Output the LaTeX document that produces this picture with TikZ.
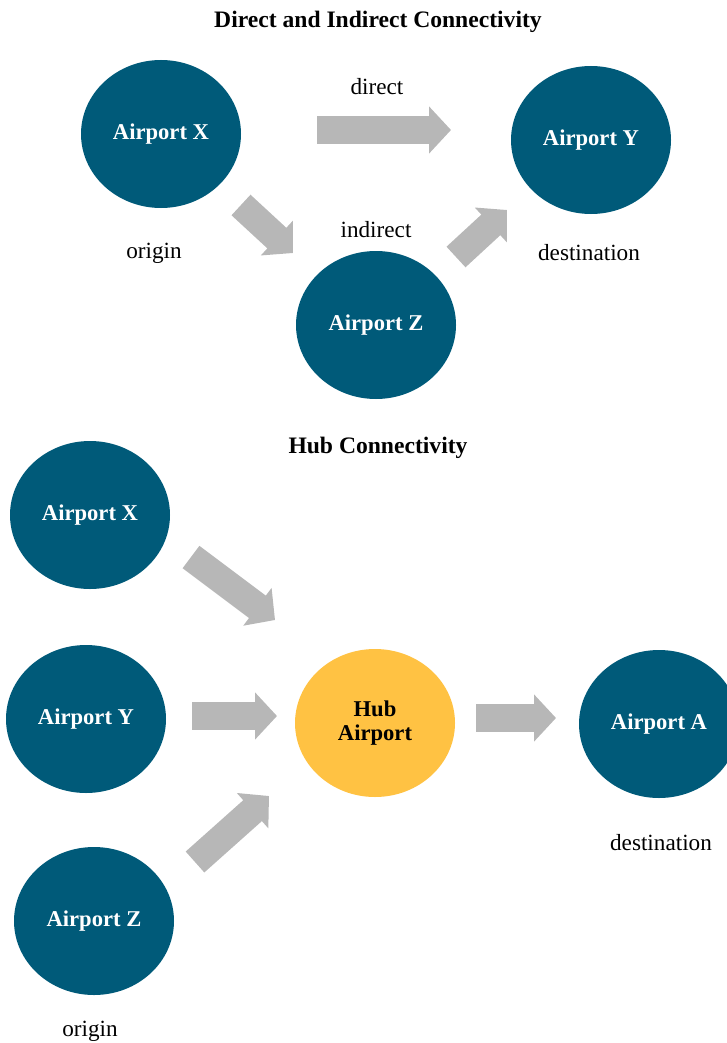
\documentclass[tikz,border=0pt]{standalone}
\usepackage{fontspec}
\setmainfont{Liberation Serif}
\usepackage{tikz}
\usetikzlibrary{shapes.geometric, arrows.meta}
\definecolor{airblue}{RGB}{0, 90, 121}
\definecolor{hubgold}{RGB}{255, 194, 67}
\definecolor{flowgray}{RGB}{183, 183, 183}

\begin{document}
\begin{tikzpicture}[
    x=1pt, y=-1pt,
    apt/.style={ellipse, fill=airblue, minimum width=160pt, minimum height=148pt, inner sep=0pt, text=white, font=\fontsize{22.6}{24}\selectfont\bfseries, align=center},
    hub/.style={apt, fill=hubgold, text=black},
    lbl/.style={font=\fontsize{23.2}{26}\selectfont},
    ttl/.style={font=\fontsize{23.6}{26}\selectfont\bfseries},
    flow/.style={flowgray, line width=28pt, -{Triangle[length=22pt, width=46pt]}},
]
\useasboundingbox (0,0) rectangle (726,1043);

% Direct and indirect (top)
\node[ttl] (title1) at (378,22) {Direct and Indirect Connectivity};
\node[apt] (x1) at (161,134) {Airport X};
\node[apt] (y1) at (591,140) {Airport Y};
\node[apt] (z1) at (376,325) {Airport Z};

\node[lbl] (direct) at (377,87) {direct};
\node[lbl] (indirect) at (376,230) {indirect};
\node[lbl] (orig1) at (154,253) {origin};
\node[lbl] (dest1) at (589,253) {destination};

\coordinate (d1) at (317,130);
\coordinate (d2) at (451,130);
\coordinate (i1) at (241,205);
\coordinate (i2) at (293,253);
\coordinate (i3) at (456,257);
\coordinate (i4) at (507,210);

\draw[flow] (d1) -- (d2);
\draw[flow] (i1) -- (i2);
\draw[flow] (i3) -- (i4);

% Hub (bottom)
\node[ttl] (title2) at (378,448) {Hub Connectivity};
\node[apt] (x2) at (90,515) {Airport X};
\node[apt] (y2) at (86,719) {Airport Y};
\node[apt] (z2) at (94,921) {Airport Z};
\node[hub] (hub) at (375,723) {Hub\\Airport};
\node[apt] (a2) at (659,724) {Airport A};

\node[lbl] (dest2) at (661,843) {destination};
\node[lbl] (orig2) at (90,1031) {origin};

\coordinate (hx1) at (191,557);
\coordinate (hx2) at (275,620);
\coordinate (hy1) at (192,716);
\coordinate (hy2) at (277,716);
\coordinate (hz1) at (195,862);
\coordinate (hz2) at (269,796);
\coordinate (ha1) at (476,718);
\coordinate (ha2) at (556,718);

\draw[flow] (hx1) -- (hx2);
\draw[flow] (hy1) -- (hy2);
\draw[flow] (hz1) -- (hz2);
\draw[flow] (ha1) -- (ha2);

\end{tikzpicture}
\end{document}
